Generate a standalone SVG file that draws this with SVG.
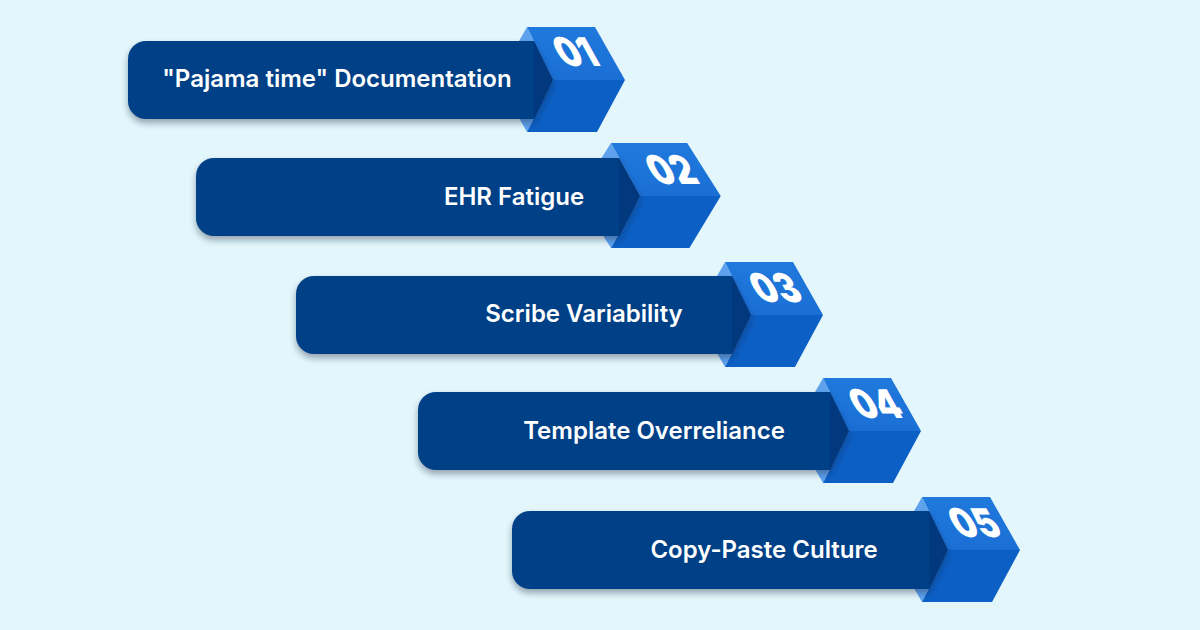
<svg xmlns="http://www.w3.org/2000/svg" width="1200" height="630" viewBox="0 0 1200 630">
  <defs>
    <filter id="sh" x="-5%" y="-20%" width="110%" height="150%">
      <feDropShadow dx="0" dy="4" stdDeviation="3" flood-color="#1a2a40" flood-opacity="0.4"/>
    </filter>
    <linearGradient id="gTop" x1="0" y1="0" x2="0" y2="1">
      <stop offset="0" stop-color="#2079dc"/>
      <stop offset="1" stop-color="#1a6fd5"/>
    </linearGradient>
    <g id="cube">
      <polygon class="left" points="0,0 26,53 0,105 -30,53"/>
      <polygon class="top" points="0,0 68,0 98,53 26,53"/>
      <polygon class="bot" points="26,53 98,53 70,105 0,105"/>
    </g>
  </defs>
  <style>
    .left { fill: #5fa3ef; }
    .top { fill: url(#gTop); }
    .bot { fill: #0c5fc4; }
    .bar { fill: #033f86; filter: url(#sh); }
    .shade { fill: #02397e; }
    .lbl { font-family: Inter, "Liberation Sans", sans-serif; font-weight: 600; font-size: 24px; fill: #ffffff; text-anchor: middle; }
    .num { font-family: Inter, "Liberation Sans", sans-serif; font-weight: 900; font-size: 33px; fill: #ffffff; text-anchor: middle; }
  </style>
  <rect width="1200" height="630" fill="#e2f6fb"/>

  <g id="item1">
    <use href="#cube" transform="translate(527,27)"/>
    <path class="bar" d="M146,41 H534 L553,80 L534,119 H146 A18,18 0 0 1 128,101 V59 A18,18 0 0 1 146,41 Z"/>
    <polygon class="shade" points="534,41 553,80 534,119"/>
    <text class="lbl" x="337" y="87">"Pajama time" Documentation</text>
    <text class="num" transform="translate(575,52) skewX(29) scale(1,1.2)" y="12">01</text>
  </g>

  <g id="item2">
    <use href="#cube" transform="translate(611,143) scale(1.12,1)"/>
    <path class="bar" d="M214,158 H619 L640,196 L619,236 H214 A18,18 0 0 1 196,218 V176 A18,18 0 0 1 214,158 Z"/>
    <polygon class="shade" points="619,158 640,196 619,236"/>
    <text class="lbl" x="514" y="205">EHR Fatigue</text>
    <text class="num" transform="translate(671,170) skewX(29) scale(1,1.2)" y="12">02</text>
  </g>

  <g id="item3">
    <use href="#cube" transform="translate(725,262)"/>
    <path class="bar" d="M314,276 H732 L751,315 L732,354 H314 A18,18 0 0 1 296,336 V294 A18,18 0 0 1 314,276 Z"/>
    <polygon class="shade" points="732,276 751,315 732,354"/>
    <text class="lbl" x="584" y="322">Scribe Variability</text>
    <text class="num" transform="translate(775,288) skewX(29) scale(1,1.2)" y="12">03</text>
  </g>

  <g id="item4">
    <use href="#cube" transform="translate(823,378)"/>
    <path class="bar" d="M436,392 H830 L849,431 L830,470 H436 A18,18 0 0 1 418,452 V410 A18,18 0 0 1 436,392 Z"/>
    <polygon class="shade" points="830,392 849,431 830,470"/>
    <text class="lbl" x="654" y="439">Template Overreliance</text>
    <text class="num" transform="translate(875,404) skewX(29) scale(1,1.2)" y="12">04</text>
  </g>

  <g id="item5">
    <use href="#cube" transform="translate(922,497)"/>
    <path class="bar" d="M530,511 H929 L948,550 L929,589 H530 A18,18 0 0 1 512,571 V529 A18,18 0 0 1 530,511 Z"/>
    <polygon class="shade" points="929,511 948,550 929,589"/>
    <text class="lbl" x="764" y="558">Copy-Paste Culture</text>
    <text class="num" transform="translate(974,523) skewX(29) scale(1,1.2)" y="12">05</text>
  </g>
</svg>
